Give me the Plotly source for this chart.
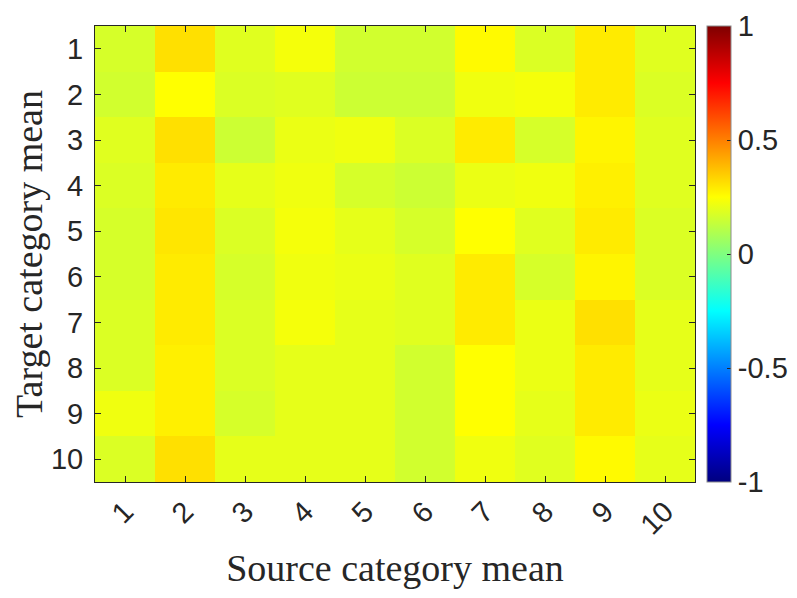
import plotly.graph_objects as go

source_labels = ["1", "2", "3", "4", "5", "6", "7", "8", "9", "10"]
target_labels = ["1", "2", "3", "4", "5", "6", "7", "8", "9", "10"]

# rows = target category mean 1..10, columns = source category mean 1..10
corr = [
    [0.17, 0.31, 0.19, 0.23, 0.16, 0.16, 0.26, 0.18, 0.29, 0.19],
    [0.16, 0.25, 0.18, 0.19, 0.15, 0.15, 0.22, 0.23, 0.29, 0.18],
    [0.19, 0.31, 0.15, 0.21, 0.22, 0.18, 0.29, 0.17, 0.27, 0.19],
    [0.18, 0.29, 0.20, 0.22, 0.17, 0.15, 0.21, 0.22, 0.28, 0.19],
    [0.17, 0.30, 0.18, 0.23, 0.20, 0.17, 0.25, 0.19, 0.29, 0.18],
    [0.17, 0.29, 0.17, 0.22, 0.21, 0.19, 0.29, 0.17, 0.27, 0.18],
    [0.18, 0.29, 0.18, 0.23, 0.20, 0.19, 0.29, 0.21, 0.31, 0.20],
    [0.18, 0.28, 0.18, 0.20, 0.20, 0.16, 0.25, 0.21, 0.29, 0.20],
    [0.22, 0.28, 0.17, 0.20, 0.20, 0.16, 0.25, 0.20, 0.29, 0.21],
    [0.18, 0.31, 0.20, 0.20, 0.20, 0.16, 0.22, 0.19, 0.26, 0.20],
]

jet = [
    [0.0, "#00007F"], [0.125, "#0000FF"], [0.375, "#00FFFF"],
    [0.625, "#FFFF00"], [0.875, "#FF0000"], [1.0, "#7F0000"],
]

axis_col = "#262626"
tick_font = dict(family="Liberation Sans, Arial", size=29, color=axis_col)
title_font = dict(family="Liberation Serif, Times New Roman", size=38, color=axis_col)

fig = go.Figure(go.Heatmap(
    z=corr,
    x=list(range(1, 11)),
    y=list(range(1, 11)),
    zmin=-1, zmax=1,
    colorscale=jet,
    colorbar=dict(
        x=1.02, xanchor="left", xpad=0, y=0.5, len=1, ypad=0,
        thickness=24, outlinewidth=1, outlinecolor="#8c8c8c",
        tickvals=[-1, -0.5, 0, 0.5, 1], ticktext=["-1", "-0.5", "0", "0.5", "1"],
        ticks="inside", ticklen=4, tickcolor=axis_col,
        tickfont=tick_font, ticklabeloverflow="allow",
    ),
))

fig.update_xaxes(
    tickvals=list(range(1, 11)), ticktext=source_labels, tickangle=-45,
    ticks="inside", ticklen=6, tickcolor=axis_col, mirror="allticks",
    showline=True, linecolor=axis_col, linewidth=1,
    tickfont=tick_font,
    title=dict(text="Source category mean", standoff=14, font=title_font),
)
fig.update_yaxes(
    tickvals=list(range(1, 11)), ticktext=target_labels, autorange="reversed",
    ticks="inside", ticklen=6, tickcolor=axis_col, mirror="allticks",
    showline=True, linecolor=axis_col, linewidth=1,
    tickfont=tick_font, ticklabelstandoff=5,
    title=dict(text="Target category mean", standoff=4, font=title_font),
)
fig.update_layout(
    width=797, height=598,
    margin=dict(l=84, r=110, t=18, b=124),
    paper_bgcolor="white", plot_bgcolor="white",
)
fig.write_html("out.html")
